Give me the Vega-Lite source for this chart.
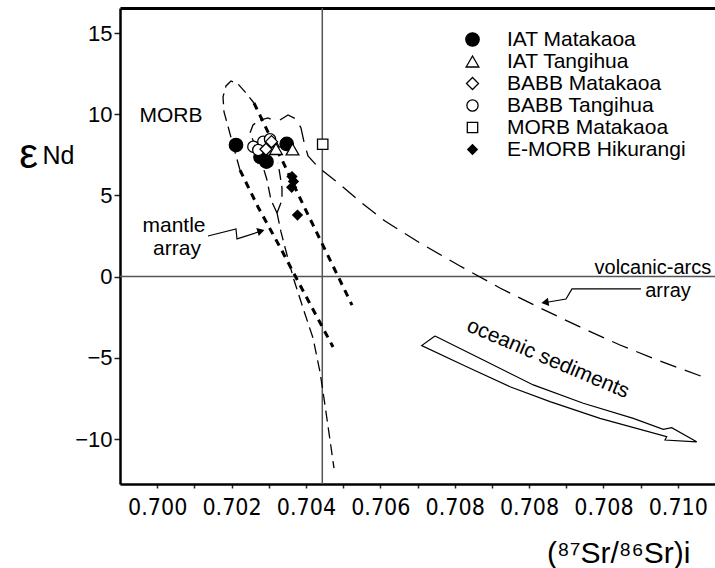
{
  "$schema": "https://vega.github.io/schema/vega-lite/v6.json",
  "width": 595,
  "height": 476,
  "autosize": {"type": "none"},
  "padding": {"left": 120, "top": 8, "right": 0, "bottom": 84},
  "background": "white",
  "config": {
    "view": {"stroke": null},
    "font": "Liberation Sans",
    "axis": {"grid": false, "domainColor": "black", "domainWidth": 2.5, "tickColor": "#222", "labelColor": "black", "titleColor": "black", "titleFontWeight": "normal"},
    "text": {"font": "Liberation Sans", "fontSize": 21, "color": "black"}
  },
  "datasets": {
    "points": [
      {"group": "IAT Matakaoa", "x": 0.702119, "y": 8.10},
      {"group": "IAT Matakaoa", "x": 0.702778, "y": 7.37},
      {"group": "IAT Matakaoa", "x": 0.702939, "y": 7.08},
      {"group": "IAT Matakaoa", "x": 0.703483, "y": 8.17},
      {"group": "IAT Tangihua", "x": 0.703114, "y": 8.32},
      {"group": "IAT Tangihua", "x": 0.703195, "y": 7.86},
      {"group": "IAT Tangihua", "x": 0.703639, "y": 7.84},
      {"group": "BABB Tangihua", "x": 0.702585, "y": 8.00},
      {"group": "BABB Tangihua", "x": 0.702853, "y": 8.31},
      {"group": "BABB Tangihua", "x": 0.703034, "y": 8.46},
      {"group": "BABB Tangihua", "x": 0.702719, "y": 7.80},
      {"group": "BABB Matakaoa", "x": 0.702926, "y": 7.84},
      {"group": "BABB Matakaoa", "x": 0.703074, "y": 8.31},
      {"group": "MORB Matakaoa", "x": 0.704451, "y": 8.15},
      {"group": "E-MORB Hikurangi", "x": 0.703625, "y": 6.16},
      {"group": "E-MORB Hikurangi", "x": 0.703665, "y": 5.86},
      {"group": "E-MORB Hikurangi", "x": 0.703617, "y": 5.50},
      {"group": "E-MORB Hikurangi", "x": 0.703773, "y": 3.79}
    ],
    "curves": [
      {"id": "morb", "style": "thin", "i": 0, "x": 0.702227, "y": 6.56},
      {"id": "morb", "style": "thin", "i": 1, "x": 0.702092, "y": 7.67},
      {"id": "morb", "style": "thin", "i": 2, "x": 0.701931, "y": 9.03},
      {"id": "morb", "style": "thin", "i": 3, "x": 0.701797, "y": 10.14},
      {"id": "morb", "style": "thin", "i": 4, "x": 0.701770, "y": 11.06},
      {"id": "morb", "style": "thin", "i": 5, "x": 0.701850, "y": 11.74},
      {"id": "morb", "style": "thin", "i": 6, "x": 0.701985, "y": 12.05},
      {"id": "morb", "style": "thin", "i": 7, "x": 0.702173, "y": 11.86},
      {"id": "morb", "style": "thin", "i": 8, "x": 0.702388, "y": 11.31},
      {"id": "morb", "style": "thin", "i": 9, "x": 0.702603, "y": 10.69},
      {"id": "tail", "style": "thin", "i": 0, "x": 0.703222, "y": 3.92},
      {"id": "tail", "style": "thin", "i": 1, "x": 0.703329, "y": 2.75},
      {"id": "tail", "style": "thin", "i": 2, "x": 0.703491, "y": 1.33},
      {"id": "tail", "style": "thin", "i": 3, "x": 0.703679, "y": -0.21},
      {"id": "tail", "style": "thin", "i": 4, "x": 0.703921, "y": -1.93},
      {"id": "tail", "style": "thin", "i": 5, "x": 0.704190, "y": -3.78},
      {"id": "tail", "style": "thin", "i": 6, "x": 0.704378, "y": -5.87},
      {"id": "tail", "style": "thin", "i": 7, "x": 0.704512, "y": -7.91},
      {"id": "tail", "style": "thin", "i": 8, "x": 0.704647, "y": -10.06},
      {"id": "tail", "style": "thin", "i": 9, "x": 0.704754, "y": -11.79},
      {"id": "innerL", "style": "thin", "i": 0, "x": 0.703222, "y": 3.92},
      {"id": "innerL", "style": "thin", "i": 1, "x": 0.703060, "y": 4.72},
      {"id": "innerL", "style": "thin", "i": 2, "x": 0.702953, "y": 5.95},
      {"id": "innerL", "style": "thin", "i": 3, "x": 0.702791, "y": 7.18},
      {"id": "innerL", "style": "thin", "i": 4, "x": 0.702630, "y": 8.10},
      {"id": "innerL", "style": "thin", "i": 5, "x": 0.702496, "y": 8.84},
      {"id": "innerL", "style": "thin", "i": 6, "x": 0.702576, "y": 9.34},
      {"id": "innerL", "style": "thin", "i": 7, "x": 0.702765, "y": 9.64},
      {"id": "innerL", "style": "thin", "i": 8, "x": 0.702980, "y": 9.77},
      {"id": "innerL", "style": "thin", "i": 9, "x": 0.703168, "y": 9.58},
      {"id": "innerR", "style": "thin", "i": 0, "x": 0.703222, "y": 3.92},
      {"id": "innerR", "style": "thin", "i": 1, "x": 0.703356, "y": 4.72},
      {"id": "innerR", "style": "thin", "i": 2, "x": 0.703356, "y": 5.46},
      {"id": "innerR", "style": "thin", "i": 3, "x": 0.703302, "y": 6.26},
      {"id": "innerR", "style": "thin", "i": 4, "x": 0.703249, "y": 7.00},
      {"id": "mantleR", "style": "thick", "i": 0, "x": 0.702603, "y": 10.69},
      {"id": "mantleR", "style": "thick", "i": 1, "x": 0.702980, "y": 8.90},
      {"id": "mantleR", "style": "thick", "i": 2, "x": 0.703383, "y": 7.06},
      {"id": "mantleR", "style": "thick", "i": 3, "x": 0.703786, "y": 5.09},
      {"id": "mantleR", "style": "thick", "i": 4, "x": 0.704190, "y": 3.18},
      {"id": "mantleR", "style": "thick", "i": 5, "x": 0.704701, "y": 0.78},
      {"id": "mantleR", "style": "thick", "i": 6, "x": 0.705238, "y": -1.75},
      {"id": "mantleL", "style": "thick", "i": 0, "x": 0.702227, "y": 6.56},
      {"id": "mantleL", "style": "thick", "i": 1, "x": 0.702711, "y": 4.29},
      {"id": "mantleL", "style": "thick", "i": 2, "x": 0.703302, "y": 1.82},
      {"id": "mantleL", "style": "thick", "i": 3, "x": 0.703840, "y": -0.52},
      {"id": "mantleL", "style": "thick", "i": 4, "x": 0.704728, "y": -4.33},
      {"id": "arc", "style": "arc", "i": 0, "x": 0.703302, "y": 9.64},
      {"id": "arc", "style": "arc", "i": 1, "x": 0.703518, "y": 9.95},
      {"id": "arc", "style": "arc", "i": 2, "x": 0.703733, "y": 9.71},
      {"id": "arc", "style": "arc", "i": 3, "x": 0.703867, "y": 9.15},
      {"id": "arc", "style": "arc", "i": 4, "x": 0.703948, "y": 8.29},
      {"id": "arc", "style": "arc", "i": 5, "x": 0.704055, "y": 7.43},
      {"id": "arc", "style": "arc", "i": 6, "x": 0.704324, "y": 6.75},
      {"id": "arc", "style": "arc", "i": 7, "x": 0.704835, "y": 5.83},
      {"id": "arc", "style": "arc", "i": 8, "x": 0.705507, "y": 4.53},
      {"id": "arc", "style": "arc", "i": 9, "x": 0.706126, "y": 3.42},
      {"id": "arc", "style": "arc", "i": 10, "x": 0.707067, "y": 2.07},
      {"id": "arc", "style": "arc", "i": 11, "x": 0.708143, "y": 0.65},
      {"id": "arc", "style": "arc", "i": 12, "x": 0.709218, "y": -0.70},
      {"id": "arc", "style": "arc", "i": 13, "x": 0.710294, "y": -1.93},
      {"id": "arc", "style": "arc", "i": 14, "x": 0.711369, "y": -3.10},
      {"id": "arc", "style": "arc", "i": 15, "x": 0.712445, "y": -4.21},
      {"id": "arc", "style": "arc", "i": 16, "x": 0.713521, "y": -5.20},
      {"id": "arc", "style": "arc", "i": 17, "x": 0.714758, "y": -6.24},
      {"id": "arrow1", "style": "solid", "i": 0, "x": 0.701366, "y": 2.50},
      {"id": "arrow1", "style": "solid", "i": 1, "x": 0.702119, "y": 2.93},
      {"id": "arrow1", "style": "solid", "i": 2, "x": 0.702146, "y": 2.32},
      {"id": "arrow1", "style": "solid", "i": 3, "x": 0.702845, "y": 2.84},
      {"id": "arrow2", "style": "solid", "i": 0, "x": 0.713010, "y": -0.76},
      {"id": "arrow2", "style": "solid", "i": 1, "x": 0.711154, "y": -0.76},
      {"id": "arrow2", "style": "solid", "i": 2, "x": 0.710993, "y": -1.38},
      {"id": "arrow2", "style": "solid", "i": 3, "x": 0.710401, "y": -1.61},
      {"id": "sed", "style": "solid", "i": 0, "x": 0.707470, "y": -3.66},
      {"id": "sed", "style": "solid", "i": 1, "x": 0.708769, "y": -5.14},
      {"id": "sed", "style": "solid", "i": 2, "x": 0.710114, "y": -6.67},
      {"id": "sed", "style": "solid", "i": 3, "x": 0.711458, "y": -7.80},
      {"id": "sed", "style": "solid", "i": 4, "x": 0.712803, "y": -8.73},
      {"id": "sed", "style": "solid", "i": 5, "x": 0.713609, "y": -9.40},
      {"id": "sed", "style": "solid", "i": 6, "x": 0.713835, "y": -9.30},
      {"id": "sed", "style": "solid", "i": 7, "x": 0.714507, "y": -10.17},
      {"id": "sed", "style": "solid", "i": 8, "x": 0.713655, "y": -10.06},
      {"id": "sed", "style": "solid", "i": 9, "x": 0.713701, "y": -9.86},
      {"id": "sed", "style": "solid", "i": 10, "x": 0.711907, "y": -8.73},
      {"id": "sed", "style": "solid", "i": 11, "x": 0.710563, "y": -7.70},
      {"id": "sed", "style": "solid", "i": 12, "x": 0.709487, "y": -6.78},
      {"id": "sed", "style": "solid", "i": 13, "x": 0.708323, "y": -5.55},
      {"id": "sed", "style": "solid", "i": 14, "x": 0.707113, "y": -4.25},
      {"id": "sed", "style": "solid", "i": 15, "x": 0.707470, "y": -3.66}
    ],
    "heads": [
      {"name": "mantle", "x": 0.702791, "y": 2.81},
      {"name": "arcs", "x": 0.710428, "y": -1.59}
    ],
    "labels": [
      {"text": "MORB", "x": 0.700371, "y": 9.54, "size": "big"},
      {"text": "mantle", "x": 0.700452, "y": 2.77, "size": "big"},
      {"text": "array", "x": 0.700533, "y": 1.36, "size": "big"},
      {"text": "volcanic-arcs", "x": 0.713330, "y": 0.16, "size": "small"},
      {"text": "array", "x": 0.713736, "y": -1.26, "size": "small"}
    ]
  },
  "resolve": {"axis": {"x": "independent"}},
  "layer": [
    {
      "data": {"values": [{"y": 0}]},
      "mark": {"type": "rule", "color": "#555", "strokeWidth": 1.5},
      "encoding": {
        "y": {"field": "y", "type": "quantitative", "scale": {"domain": [-12.77, 16.54], "nice": false, "zero": false}}
      }
    },
    {
      "data": {"values": [{"x": 0.70444}]},
      "mark": {"type": "rule", "color": "#555", "strokeWidth": 1.5},
      "encoding": {
        "x": {"field": "x", "type": "quantitative", "scale": {"domain": [0.699, 0.715], "nice": false, "zero": false},
          "axis": {"orient": "top", "labels": false, "ticks": false, "domain": true, "domainWidth": 3, "domainColor": "black",
            "title": "Nd", "titleFontSize": 25, "titleFont": "Liberation Sans", "titleX": -62, "titleY": 155, "titleAngle": 0,
            "titleAlign": "center", "titleBaseline": "alphabetic", "titleAnchor": null}}
      }
    },
    {
      "data": {"name": "curves"},
      "transform": [{"filter": "datum.style == 'thin'"}],
      "mark": {"type": "line", "color": "black", "strokeWidth": 1.3, "strokeDash": [11, 6]},
      "encoding": {
        "x": {"field": "x", "type": "quantitative", "axis": null},
        "y": {"field": "y", "type": "quantitative"},
        "detail": {"field": "id"},
        "order": {"field": "i", "type": "quantitative"}
      }
    },
    {
      "data": {"name": "curves"},
      "transform": [{"filter": "datum.style == 'thick'"}],
      "mark": {"type": "line", "color": "black", "strokeWidth": 3, "strokeDash": [7, 6]},
      "encoding": {
        "x": {"field": "x", "type": "quantitative", "axis": null},
        "y": {"field": "y", "type": "quantitative"},
        "detail": {"field": "id"},
        "order": {"field": "i", "type": "quantitative"}
      }
    },
    {
      "data": {"name": "curves"},
      "transform": [{"filter": "datum.style == 'arc'"}],
      "mark": {"type": "line", "color": "black", "strokeWidth": 1.3, "strokeDash": [17, 9]},
      "encoding": {
        "x": {"field": "x", "type": "quantitative", "axis": null},
        "y": {"field": "y", "type": "quantitative"},
        "detail": {"field": "id"},
        "order": {"field": "i", "type": "quantitative"}
      }
    },
    {
      "data": {"name": "curves"},
      "transform": [{"filter": "datum.style == 'solid'"}],
      "mark": {"type": "line", "color": "black", "strokeWidth": 1.2},
      "encoding": {
        "x": {"field": "x", "type": "quantitative", "axis": null},
        "y": {"field": "y", "type": "quantitative"},
        "detail": {"field": "id"},
        "order": {"field": "i", "type": "quantitative"}
      }
    },
    {
      "data": {"name": "heads"},
      "transform": [{"filter": "datum.name == 'mantle'"}],
      "mark": {"type": "point", "shape": "triangle-right", "filled": true, "color": "black", "opacity": 1, "size": 70, "angle": -17},
      "encoding": {
        "x": {"field": "x", "type": "quantitative", "axis": null},
        "y": {"field": "y", "type": "quantitative"}
      }
    },
    {
      "data": {"name": "heads"},
      "transform": [{"filter": "datum.name == 'arcs'"}],
      "mark": {"type": "point", "shape": "triangle-left", "filled": true, "color": "black", "opacity": 1, "size": 70, "angle": -9},
      "encoding": {
        "x": {"field": "x", "type": "quantitative", "axis": null},
        "y": {"field": "y", "type": "quantitative"}
      }
    },
    {
      "data": {"name": "labels"},
      "transform": [{"filter": "datum.size == 'big'"}],
      "mark": {"type": "text", "align": "center", "baseline": "alphabetic", "fontSize": 21},
      "encoding": {
        "x": {"field": "x", "type": "quantitative", "axis": null},
        "y": {"field": "y", "type": "quantitative"},
        "text": {"field": "text"}
      }
    },
    {
      "data": {"name": "labels"},
      "transform": [{"filter": "datum.size == 'small'"}],
      "mark": {"type": "text", "align": "center", "baseline": "alphabetic", "fontSize": 20},
      "encoding": {
        "x": {"field": "x", "type": "quantitative", "axis": null},
        "y": {"field": "y", "type": "quantitative"},
        "text": {"field": "text"}
      }
    },
    {
      "data": {"values": [{"text": "oceanic sediments", "x": 0.710509, "y": -5.07}]},
      "mark": {"type": "text", "align": "center", "baseline": "middle", "fontSize": 21, "angle": 23},
      "encoding": {
        "x": {"field": "x", "type": "quantitative", "axis": null},
        "y": {"field": "y", "type": "quantitative"},
        "text": {"field": "text"}
      }
    },
    {
      "data": {"name": "points"},
      "mark": {"type": "point", "stroke": "black", "strokeWidth": 1.3, "opacity": 1},
      "encoding": {
        "x": {"field": "x", "type": "quantitative",
          "axis": {"orient": "bottom", "values": [0.700, 0.701, 0.702, 0.703, 0.704, 0.705, 0.706, 0.707, 0.708, 0.709, 0.710, 0.711, 0.712, 0.713, 0.714],
            "labelExpr": "['0.700','','0.702','','0.704','','0.706','','0.708','','0.708','','0.708','','0.710'][round((datum.value-0.7)*1000)]",
            "tickSize": 4, "tickWidth": 1.5, "labelFont": "Liberation Sans Narrow, DejaVu Sans Condensed, sans-serif", "labelFontSize": 23,
            "labelPadding": 8, "labelOverlap": false, "labelFlush": false, "domainWidth": 2.5,
            "title": "(⁸⁷Sr/⁸⁶Sr)i", "titleFontSize": 30, "titleFont": "Liberation Sans", "titleX": 570, "titleY": 78,
            "titleAlign": "right", "titleAnchor": null, "titleBaseline": "alphabetic"}},
        "y": {"field": "y", "type": "quantitative",
          "axis": {"values": [-10, -5, 0, 5, 10, 15], "tickSize": 6, "tickWidth": 1.5, "labelFontSize": 22, "labelPadding": 2,
            "labelFont": "Liberation Sans", "domainWidth": 2.5, "title": "ε", "titleFontSize": 42, "titleFont": "Liberation Sans",
            "titleAngle": 0, "titleX": -92, "titleY": 159, "titleAlign": "center", "titleBaseline": "alphabetic", "titleAnchor": null}},
        "shape": {"field": "group", "type": "nominal",
          "scale": {"domain": ["IAT Matakaoa", "IAT Tangihua", "BABB Matakaoa", "BABB Tangihua", "MORB Matakaoa", "E-MORB Hikurangi"],
            "range": ["circle", "triangle-up", "diamond", "circle", "square", "diamond"]},
          "legend": {"orient": "none", "legendX": 342, "legendY": 21, "title": null, "labelFontSize": 21, "labelFont": "Liberation Sans",
            "labelColor": "black", "labelLimit": 0, "rowPadding": 0, "labelOffset": 24, "symbolStrokeWidth": 1.3, "symbolStrokeColor": "black", "padding": 0}},
        "fill": {"field": "group", "type": "nominal",
          "scale": {"domain": ["IAT Matakaoa", "IAT Tangihua", "BABB Matakaoa", "BABB Tangihua", "MORB Matakaoa", "E-MORB Hikurangi"],
            "range": ["black", "white", "white", "white", "white", "black"]}},
        "size": {"field": "group", "type": "nominal",
          "scale": {"domain": ["IAT Matakaoa", "IAT Tangihua", "BABB Matakaoa", "BABB Tangihua", "MORB Matakaoa", "E-MORB Hikurangi"],
            "range": [180, 90, 130, 110, 110, 90]}}
      }
    }
  ]
}
